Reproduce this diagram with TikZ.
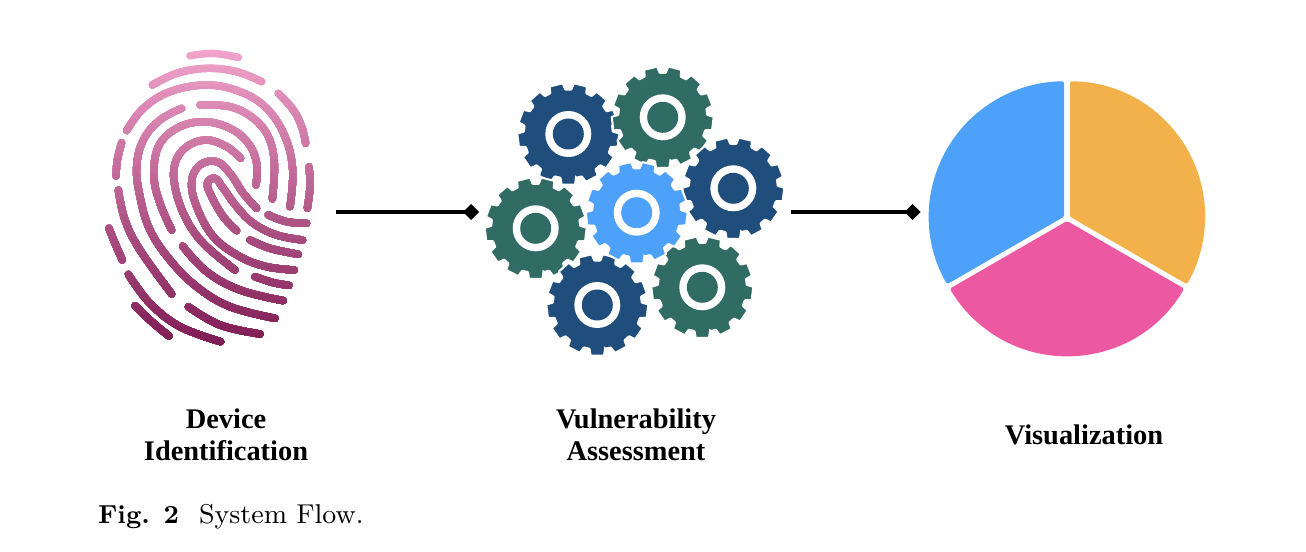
\documentclass[tikz,border=0pt]{standalone}
\usepackage{fontspec}
\usepackage{xcolor}
\usetikzlibrary{arrows.meta,positioning}
\newfontfamily\labelfont{Liberation Serif}
\definecolor{printtop}{HTML}{F2A4CC}
\definecolor{printbot}{HTML}{7F1C54}
\definecolor{gearblue}{HTML}{204E7C}
\definecolor{geargreen}{HTML}{316C64}
\definecolor{gearlight}{HTML}{4DA1F8}
\definecolor{pieorange}{HTML}{F2B14A}
\definecolor{piepink}{HTML}{EC58A2}
\definecolor{pieblue}{HTML}{4DA1F8}
\newcommand{\ridgelines}{%
  \draw[ridge]
    plot coordinates {(300,47) (370,40) (445,52)}
    plot coordinates {(187,135) (260,100) (350,85) (440,95) (515,125)}
    plot coordinates {(110,272) (160,205) (240,155) (350,135) (450,155) (530,205) (585,290) (608,390) (600,500)}
    plot coordinates {(565,160) (610,210) (635,260) (647,310)}
    plot coordinates {(657,380) (660,440) (652,505)}
    plot coordinates {(95,308) (82,360) (78,408)}
    plot coordinates {(275,205) (210,240) (160,300) (140,380) (150,470) (180,570) (240,660) (320,740) (420,800) (555,835)}
    plot coordinates {(85,450) (105,540) (150,630) (245,762)}
    plot coordinates {(57,565) (75,610) (97,660)}
    plot coordinates {(115,703) (180,790) (270,860) (392,905)}
    plot coordinates {(135,797) (185,845) (237,888)}
    plot coordinates {(295,800) (390,855) (510,882)}
    plot coordinates {(278,618) (350,695) (450,750) (580,782)}
    plot coordinates {(495,710) (550,728) (597,736)}
    plot coordinates {(330,195) (420,200) (490,235) (535,290) (553,370) (547,477)}
    plot coordinates {(245,570) (210,490) (192,410) (205,320) (260,265) (340,245) (420,265) (475,310) (500,370) (498,435)}
    plot coordinates {(452,355) (410,320) (350,300) (290,320) (255,370) (255,440) (285,530) (340,610) (435,690)}
    plot coordinates {(500,505) (460,460) (420,400) (380,365) (330,375) (305,425) (320,500) (370,590) (450,650) (530,680) (613,690)}
    plot coordinates {(440,572) (400,530) (365,470) (352,430) (375,415) (400,445) (440,500) (490,550) (560,585) (638,600)}
    plot coordinates {(535,525) (590,545) (650,550)}
    plot coordinates {(480,600) (540,625) (625,643)};
}
\begin{document}
\begin{tikzpicture}[
  x=0.75pt,y=-0.75pt,
  ridge/.style={line width=5.5pt,line cap=round,line join=round,smooth,tension=.65},
  flow/.style={-{Diamond[length=12pt,width=12pt]},line width=3pt,black},
  area/.style={inner sep=0pt,minimum height=150pt},
  title/.style={font=\labelfont\bfseries\fontsize{21.3}{24}\selectfont,align=center},
  gearpic/.pic={
    \filldraw[fill=\gearcol,draw=white,line width=1.5pt,rounded corners=.4pt] (80:44.5)
      \foreach \k in {0,...,12} {
        -- ({90+\k*27.69-10}:44.5) -- ({90+\k*27.69-7.5}:51) -- ({90+\k*27.69+7.5}:51) -- ({90+\k*27.69+10}:44.5)
      } -- cycle;
    \fill[white] (0,0) circle[radius=23];
    \fill[\gearcol] (0,0) circle[radius=15.5];
  }
]
\useasboundingbox (0,0) rectangle (1306,552);
% fingerprint, one clipped copy per colour band
\begin{scope}[shift={(90,40)},x=0.25pt,y=-0.25pt]
\foreach \band in {0,...,44} {
  \pgfmathsetmacro{\pct}{\band/44*100}
  \pgfmathsetmacro{\bandtop}{20+\band*20}
  \colorlet{bandcol}{printbot!\pct!printtop}
  \begin{scope}
    \clip (0,\bandtop) rectangle (720,960);
    \begin{scope}[color=bandcol]
      \ridgelines
    \end{scope}
  \end{scope}
}
\end{scope}
% gears
\foreach \gx/\gy/\col in {568.3/134/gearblue,662.7/117.3/geargreen,733.3/188.3/gearblue,535.7/228.3/geargreen,702.3/287.3/geargreen,597.3/305/gearblue,636.7/212.7/gearlight} {
  \def\gearcol{\col}
  \pic at (\gx,\gy) {gearpic};
}
% pie
\fill[pieorange,rounded corners=1.2pt] (1069.8,216.6) -- ++(-90:135.3) arc[start angle=-90,end angle=30,radius=135.3] -- cycle;
\fill[piepink,rounded corners=1.2pt] (1067,221) -- ++(30:135.3) arc[start angle=30,end angle=150,radius=135.3] -- cycle;
\fill[pieblue,rounded corners=1.2pt] (1064.2,216.6) -- ++(150:135.3) arc[start angle=150,end angle=270,radius=135.3] -- cycle;
\node[area,minimum width=192pt] (print) at (208,212) {};
\node[area,minimum width=233.25pt] (gears) at (635,212) {};
\node[area,minimum width=219pt] (pie) at (1067,212) {};
\draw[flow] (print) -- (gears);
\draw[flow] (gears) -- (pie);
\node[title] (printlabel) at (226,435) {Device\\Identification};
\node[title] (gearslabel) at (636,435) {Vulnerability\\Assessment};
\node[title] (pielabel) at (1084,435) {Visualization};
\node[anchor=base west,inner sep=0pt,scale=2.27,font=\fontsize{9}{11}\selectfont] (caption) at (97.5,523) {{\bfseries\fontsize{8.6}{11}\selectfont Fig. 2}\hspace{6.6pt}System Flow.};
\end{tikzpicture}
\end{document}
